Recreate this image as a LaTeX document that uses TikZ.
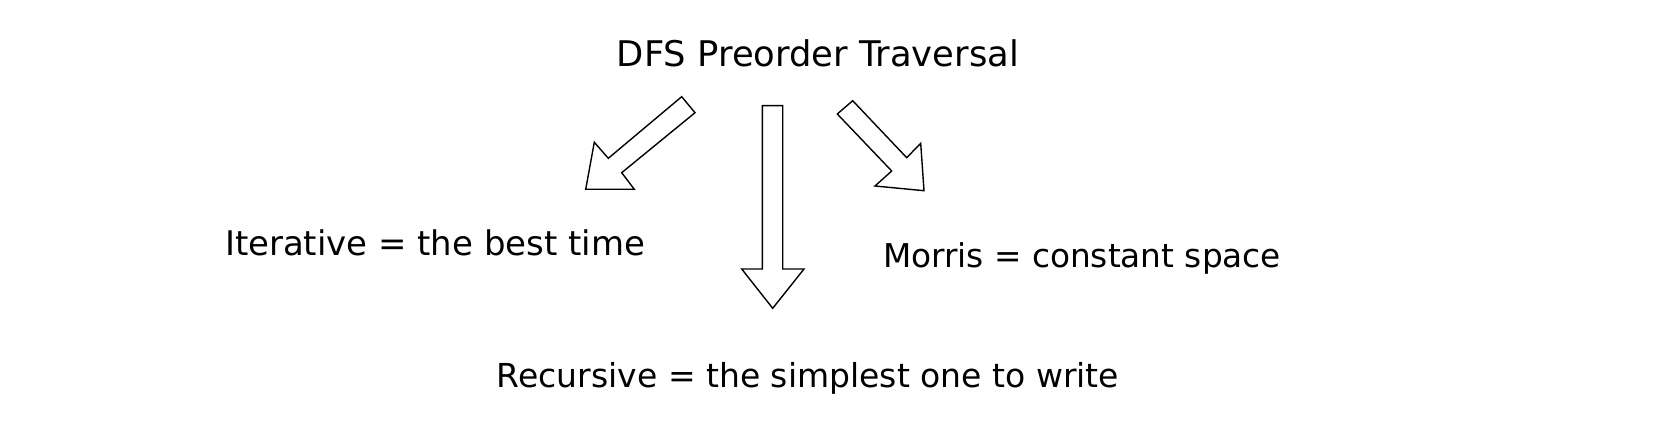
\documentclass[tikz,border=0pt]{standalone}
\usepackage{fontspec}
\setmainfont{DejaVu Sans}
\tikzset{
  lbl/.style={inner sep=0pt, anchor=base, font=\fontsize{34}{40}\selectfont},
  blockarrow/.style={draw=black, fill=white, line width=1.4pt, line join=miter}
}
\begin{document}
\begin{tikzpicture}[x=1pt,y=-1pt]
\useasboundingbox[fill=white] (0,0) rectangle (1660,422);
\node[lbl] (title) at (818,67) {\resizebox{402pt}{!}{DFS Preorder Traversal}};
\node[lbl] (iter) at (435,255) {\resizebox{420pt}{!}{Iterative = the best time}};
\node[lbl] (morris) at (1082,267) {\resizebox{398pt}{!}{Morris = constant space}};
\node[lbl] (rec) at (808,387) {\resizebox{622pt}{!}{Recursive = the simplest one to write}};
% left arrow
\draw[blockarrow] (681.7,96.7) -- (695,112.7) -- (621.7,172.7) -- (634.3,189.3) -- (585.7,189.3) -- (594.3,142.3) -- (608.3,158.3) -- cycle;
% middle arrow
\draw[blockarrow] (762.3,105.7) -- (782.7,105.7) -- (782.7,269) -- (804,269) -- (772.7,308.3) -- (741.7,269) -- (762.3,269) -- cycle;
% right arrow
\draw[blockarrow] (837.3,114) -- (852.7,100.7) -- (906.7,157.7) -- (920.7,143.3) -- (924,190.7) -- (875,186) -- (891.7,171) -- cycle;
\end{tikzpicture}
\end{document}
